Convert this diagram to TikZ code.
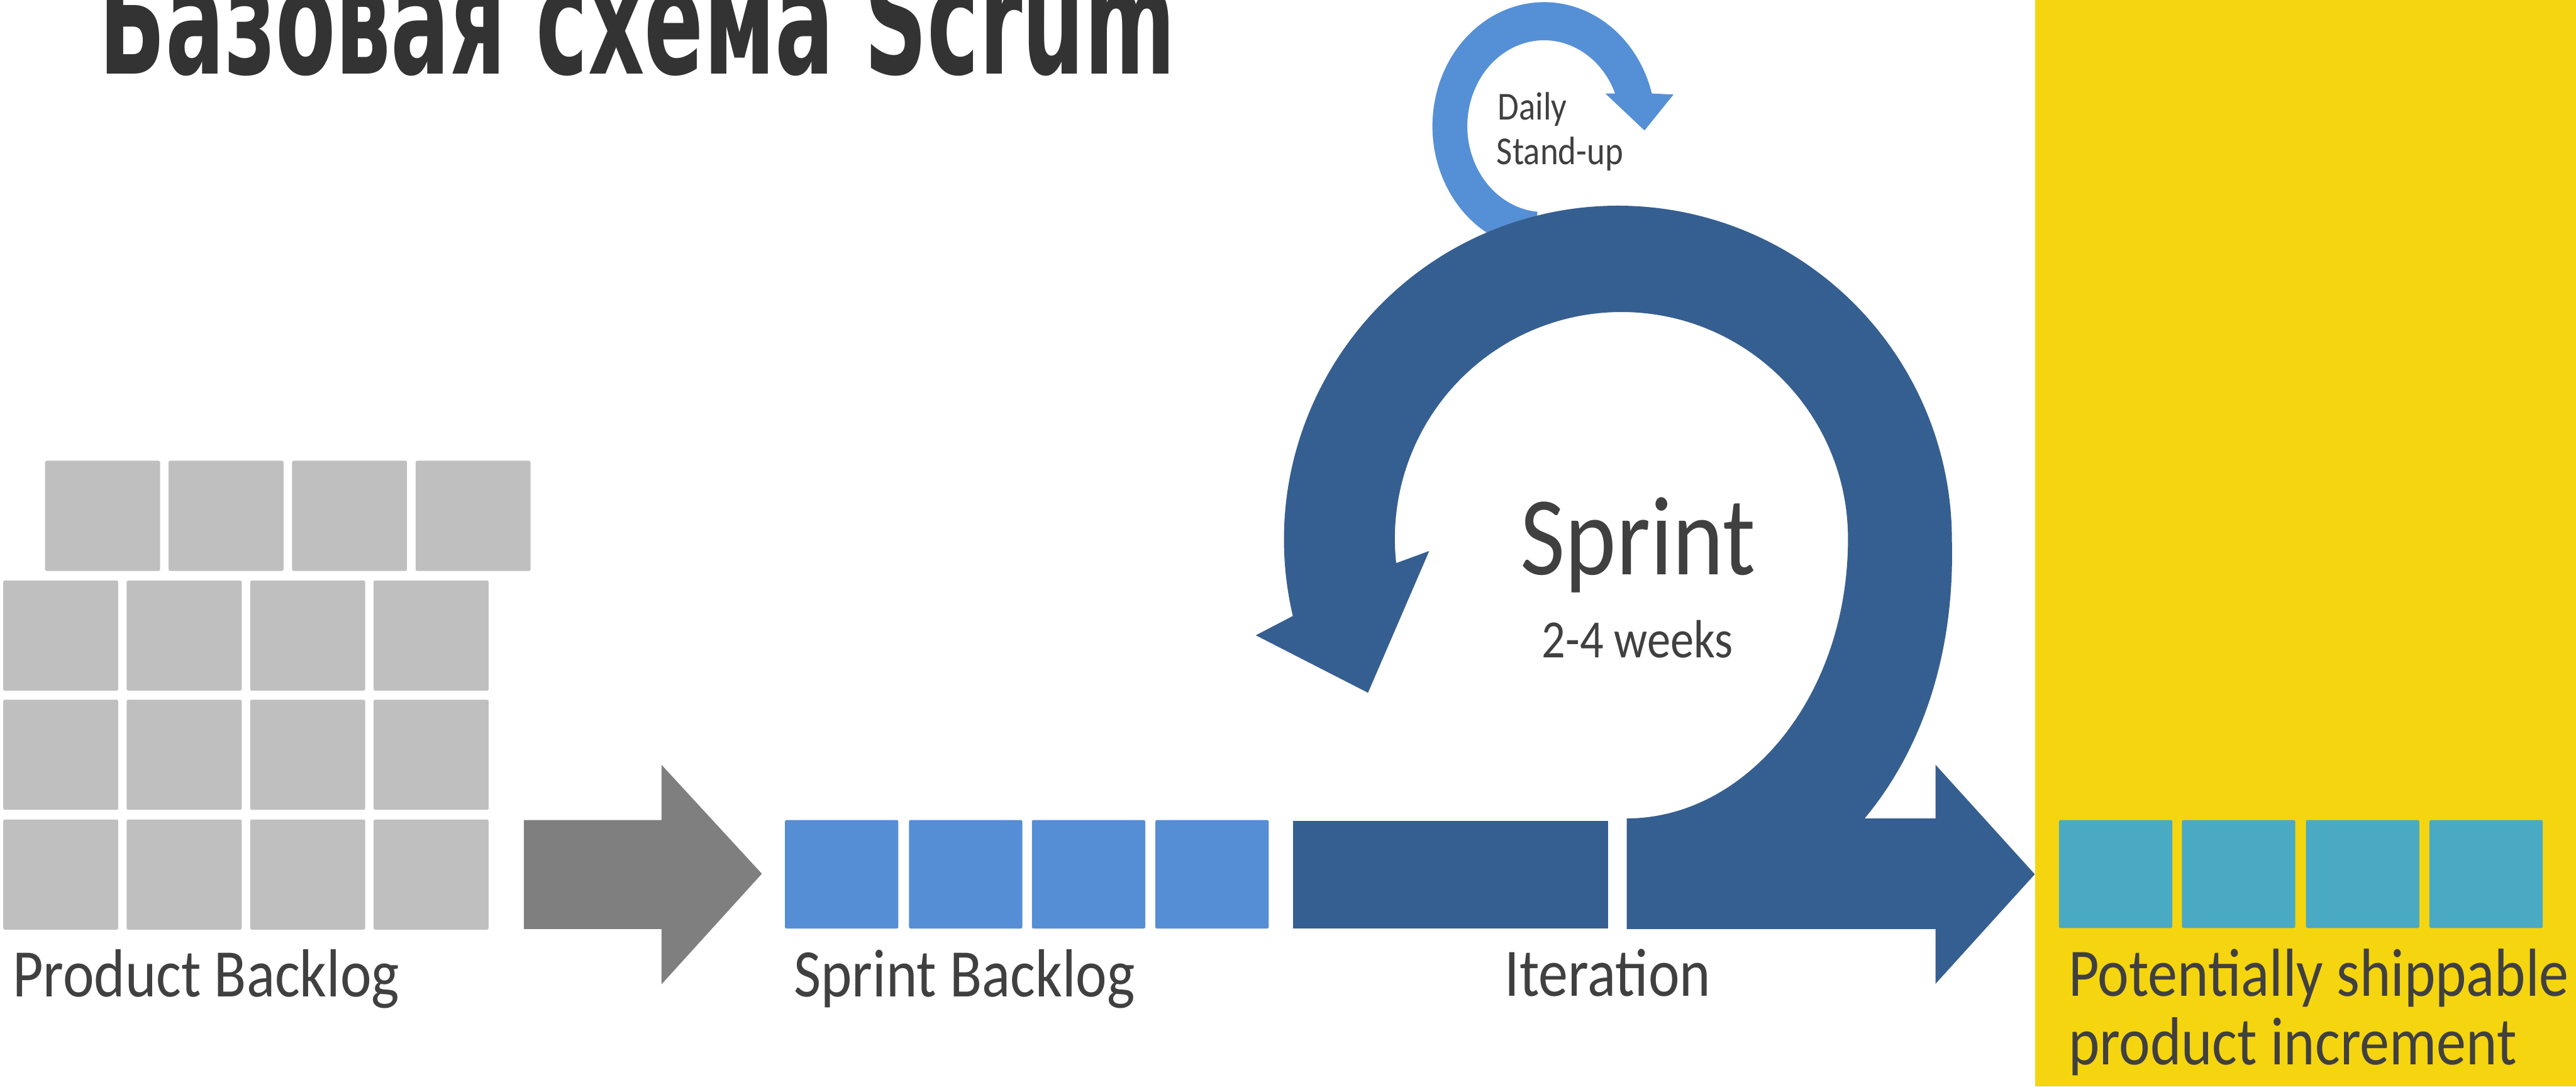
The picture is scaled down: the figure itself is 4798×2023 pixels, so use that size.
\documentclass[tikz,border=0pt]{standalone}
\usepackage{fontspec}
\newfontfamily\lblfont{Carlito}[FakeStretch=0.87]
\newfontfamily\titlefont{DejaVu Sans}

\definecolor{pbgray}{HTML}{BFBFBF}
\definecolor{arrowgray}{HTML}{7F7F7F}
\definecolor{sbblue}{HTML}{558ED5}
\definecolor{dailyblue}{HTML}{5590D6}
\definecolor{sprintblue}{HTML}{365F91}
\definecolor{incteal}{HTML}{4AAAC4}
\definecolor{yellowbg}{HTML}{F5D50F}
\definecolor{lblgray}{HTML}{404040}
\definecolor{titlegray}{HTML}{333333}

\begin{document}
\begin{tikzpicture}[x=0.01cm, y=-0.01cm,
  tile/.style={rectangle, rounded corners=0.03cm, inner sep=0pt, outer sep=0pt, anchor=north west},
  pbtile/.style={tile, fill=pbgray, minimum width=2.14cm, minimum height=2.05cm},
  sbtile/.style={tile, fill=sbblue, minimum width=2.11cm, minimum height=2.02cm},
  inctile/.style={tile, fill=incteal, minimum width=2.11cm, minimum height=2.01cm},
  lbl/.style={inner sep=0pt, anchor=base west, text=lblgray, font=\lblfont\fontsize{36}{36}\selectfont},
]
\useasboundingbox (0,0) rectangle (4798,2023);
\clip (0,0) rectangle (4798,2023);
\fill[white] (0,0) rectangle (4798,2023);

% increment panel
\fill[yellowbg] (3791,0) rectangle (4798,2023);

% title, condensed bold, running off the top edge
\node[anchor=base west, inner sep=0pt, text=titlegray] (title) at (184,138)
  {\resizebox{20.04cm}{2.1cm}{\titlefont\bfseries Базовая схема Scrum}};

% product backlog
\foreach \c in {0,...,3} {
  \node[pbtile] (pb-1-\c) at (84+230*\c, 858) {};
  \node[pbtile] (pb-2-\c) at (6+230*\c, 1081) {};
  \node[pbtile] (pb-3-\c) at (6+230*\c, 1303) {};
  \node[pbtile] (pb-4-\c) at (6+230*\c, 1526) {};
}
\node[lbl] (pblabel) at (23,1856) {Product Backlog};

% selection arrow
\fill[arrowgray] (976,1527) -- (1232,1527) -- (1232,1424) -- (1419,1627)
  -- (1232,1833) -- (1232,1730) -- (976,1730) -- cycle;

% sprint backlog
\foreach \x [count=\i] in {1462,1693,1922,2152} {
  \node[sbtile] (sb-\i) at (\x,1527) {};
}
\node[lbl] (sblabel) at (1478,1856) {Sprint Backlog};

% daily stand-up loop
\fill[dailyblue] (2804.9,452.1) arc[start angle=110, end angle=344.7, x radius=208, y radius=231]
  -- (3117,176) -- (3063,243) -- (2990,174) -- (3008.2,174)
  arc[start angle=337.6, end angle=95, x radius=143, y radius=160]
  -- (2860,480) -- (2800,480) -- cycle;
\node[lbl, font=\lblfont\fontsize{21}{21}\selectfont] (daily) at (2789,223) {Daily};
\node[lbl, font=\lblfont\fontsize{21}{21}\selectfont] (standup) at (2787,306) {Stand-up};

% iteration bar
\node[tile, fill=sprintblue, minimum width=5.87cm, minimum height=2.0cm, rounded corners=0pt] (iter) at (2408,1529) {};

% sprint loop with outgoing arrow
\fill[sprintblue] (3030,1730) -- (3030,1524)
  .. controls (3250,1524) and (3442,1300) .. (3442,1003)
  arc[start angle=0, end angle=-186.2, radius=422]
  -- (2662,1026) -- (2548,1290) -- (2339,1183) -- (2408,1147)
  arc[start angle=-193.2, end angle=0, radius=622]
  .. controls (3642,1250) and (3560,1420) .. (3473,1524)
  -- (3605,1524) -- (3605,1424) -- (3790,1628) -- (3605,1832) -- (3605,1730) -- cycle;
\node[lbl, font=\lblfont\fontsize{59.4}{60}\selectfont] (sprint) at (2831,1070) {Sprint};
\node[lbl, font=\lblfont\fontsize{28.5}{29}\selectfont] (weeks) at (2871,1225) {2-4 weeks};
\node[lbl] (itlabel) at (2802,1855) {Iteration};

% potentially shippable increment
\foreach \x [count=\i] in {3835,4064,4295,4525} {
  \node[inctile] (inc-\i) at (\x,1527) {};
}
\node[lbl] (inclabel1) at (3852,1855) {Potentially shippable};
\node[lbl] (inclabel2) at (3852,1982) {product increment};
\end{tikzpicture}
\end{document}
